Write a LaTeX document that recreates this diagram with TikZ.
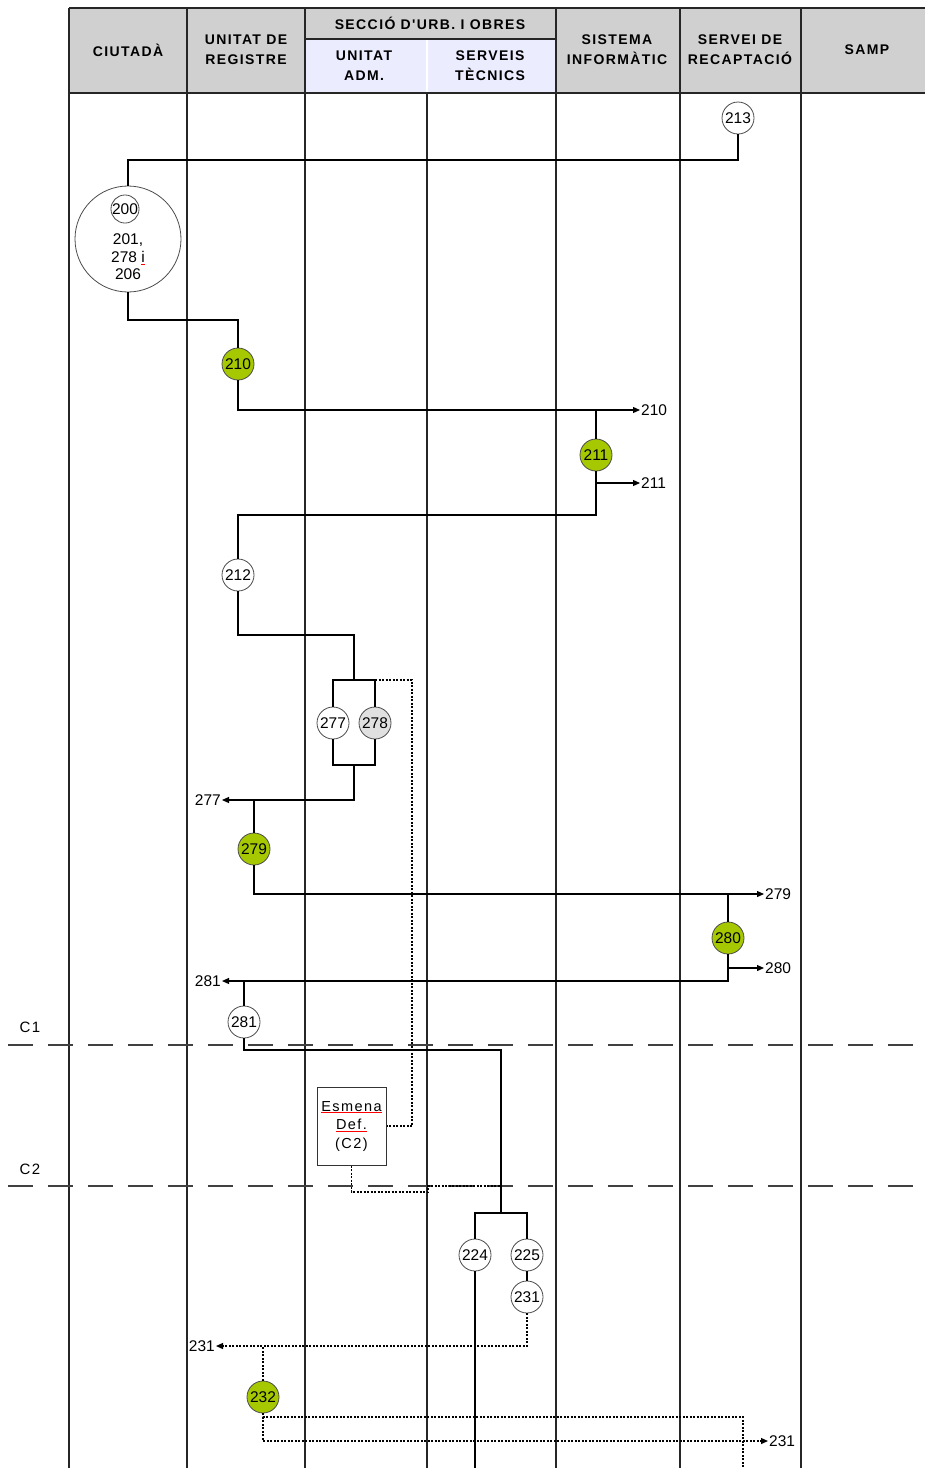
\documentclass[tikz,border=0pt]{standalone}
\usepackage{fontspec}
\setmainfont{Liberation Sans}
\newfontfamily\hdfont[LetterSpace=10]{Liberation Sans}
\usetikzlibrary{arrows.meta}

\definecolor{hdgray}{RGB}{208,208,208}
\definecolor{hdlav}{RGB}{236,236,255}
\definecolor{nodegreen}{RGB}{166,200,0}
\definecolor{nodegray}{RGB}{224,224,224}
\newcommand\redul[1]{\rlap{\textcolor{red}{\underline{\phantom{#1}}}}#1}
\newcommand\numfont{\fontsize{15.5}{17.5}\selectfont}

\tikzset{
  lane/.style={line width=2.2pt,draw=black!85},
  flow/.style={line width=1.2pt,draw=black},
  flowd/.style={flow,dash pattern=on 2pt off 1.5pt},
  tip/.style={-{Triangle[length=7pt,width=6pt]}},
  proc/.style={circle,draw=black!70,line width=0.8pt,fill=white,minimum size=32pt,inner sep=0pt,font=\numfont},
  procg/.style={proc,fill=nodegreen},
  lab/.style={font=\numfont,inner sep=1pt},
  hd/.style={font=\hdfont\bfseries\fontsize{14}{20}\selectfont,align=center,inner sep=0pt},
  cline/.style={line width=1.3pt,draw=black!75,dash pattern=on 25pt off 15pt}
}

\begin{document}
\begin{tikzpicture}[x=1pt,y=-1pt,line cap=butt,line join=miter]
  \useasboundingbox (0,0) rectangle (925,1468);
  % header
  \fill[hdgray] (69,8) rectangle (925,93);
  \fill[hdlav] (305,39) rectangle (556,93);
  \draw[lane] (69,8) -- (925,8);
  \draw[lane] (69,93) -- (925,93);
  \draw[lane] (305,39) -- (556,39);
  \foreach \x in {69,187,305,556,680,801}
    \draw[lane] (\x,8) -- (\x,93);
  \draw[white,line width=2pt] (427,40) -- (427,92);
  \node[hd] (hciu) at (128,50) {CIUTADÀ};
  \node[hd] (hreg) at (246,50) {UNITAT DE\\REGISTRE};
  \node[hd] (hsec) at (430,23) {SECCIÓ D'URB. I OBRES};
  \node[hd] (hadm) at (364,66) {UNITAT\\ADM.};
  \node[hd] (htec) at (490,66) {SERVEIS\\TÈCNICS};
  \node[hd] (hinf) at (617,50) {SISTEMA\\INFORMÀTIC};
  \node[hd] (hrec) at (740,50) {SERVEI DE\\RECAPTACIÓ};
  \node[hd] (hsamp) at (867,50) {SAMP};
  % lanes
  \foreach \x in {69,187,305,427,556,680,801}
    \draw[lane] (\x,93) -- (\x,1468);
  % milestones
  \draw[cline] (8,1045) -- (925,1045);
  \draw[cline] (8,1186) -- (925,1186);
  \node[lab,font=\hdfont\fontsize{15}{17}\selectfont] (c1) at (30,1027) {C1};
  \node[lab,font=\hdfont\fontsize{15}{17}\selectfont] (c2) at (30,1169) {C2};

  % steps
  \node[proc] (n213) at (738,118) {213};
  \node[circle,draw=black!70,line width=0.8pt,fill=white,minimum size=106pt,inner sep=0pt] (n200g) at (128,239) {};
  \node[proc,minimum size=28pt] (n200) at (125,209) {200};
  \node[lab,align=center] (n201) at (128,257) {201,\\278 \redul{i}\\206};
  \coordinate (k1) at (128,160);
  \draw[flow] (n213.south) |- (k1) -- (n200g.north);

  \node[procg] (n210) at (238,364) {210};
  \coordinate (k2) at (238,320);
  \draw[flow] (n200g.south) |- (k2) -- (n210.north);
  \node[lab,anchor=west] (o210) at (640,410) {210};
  \draw[flow,tip] (n210.south) |- (o210.west);

  \node[procg] (n211) at (596,455) {211};
  \draw[flow] (n211.north) -- (n211.north |- o210.west);
  \node[lab,anchor=west] (o211) at (640,483) {211};
  \draw[flow,tip] (n211.south |- o211.west) -- (o211.west);

  \node[proc] (n212) at (238,575) {212};
  \coordinate (k3) at (596,515);
  \draw[flow] (n211.south) -- (k3) -| (n212.north);

  \node[proc] (n277) at (333,723) {277};
  \node[proc,fill=nodegray] (n278) at (375,723) {278};
  \coordinate (k4) at (354,635);
  \coordinate (k5) at (354,680);
  \coordinate (k6) at (354,765);
  \draw[flow] (n212.south) |- (k4) -- (k5);
  \draw[flow] (n277.north) |- (k5) -| (n278.north);
  \draw[flow] (n277.south) |- (k6) -| (n278.south);
  \node[lab,anchor=east] (o277) at (222,800) {277};
  \draw[flow,tip] (k6) |- (o277.east);

  \node[procg] (n279) at (254,849) {279};
  \draw[flow] (n279.north) -- (n279.north |- o277.east);
  \node[lab,anchor=west] (o279) at (764,894) {279};
  \draw[flow,tip] (n279.south) |- (o279.west);

  \node[procg] (n280) at (728,938) {280};
  \draw[flow] (n280.north) -- (n280.north |- o279.west);
  \node[lab,anchor=west] (o280) at (764,968) {280};
  \draw[flow,tip] (n280.south |- o280.west) -- (o280.west);
  \node[lab,anchor=east] (o281) at (222,981) {281};
  \draw[flow,tip] (n280.south) |- (o281.east);

  \node[proc] (n281) at (244,1022) {281};
  \draw[flow] (n281.north) -- (n281.north |- o281.east);

  \node[draw=black!80,line width=1pt,fill=white,minimum width=69pt,minimum height=78pt,
        inner sep=0pt,align=center,font=\hdfont\fontsize{14.5}{18.5}\selectfont] (esm) at (351.5,1126)
        {\redul{Esmena}\\\redul{Def.}\\(C2)};
  \coordinate (k10) at (412,680);
  \draw[flowd] (n278.north |- k5) -- (k10) |- (esm.east);

  \node[proc] (n224) at (475,1255) {224};
  \node[proc] (n225) at (527,1255) {225};
  \node[proc] (n231) at (527,1297) {231};
  \coordinate (k7) at (501,1050);
  \coordinate (k8) at (501,1213);
  \draw[flow] (n281.south) |- (k7) -- (k8);
  \draw[flow] (n224.north) |- (k8) -| (n225.north);
  \coordinate (b224) at (475,1468);
  \draw[flow] (n224.south) -- (b224);
  \draw[flow] (n225) -- (n231);
  \coordinate (k11) at (428,1192);
  \coordinate (k12) at (428,1186);
  \draw[flowd] (esm.south) |- (k11) -- (k12) -- (k12 -| k8);

  \node[lab,anchor=east] (o231a) at (216,1346) {231};
  \draw[flowd,tip] (n231.south) |- (o231a.east);
  \node[procg] (n232) at (263,1397) {232};
  \draw[flowd] (n232.north) -- (n232.north |- o231a.east);
  \coordinate (k9) at (743,1417);
  \coordinate (b9) at (743,1468);
  \draw[flowd] (n232.south) |- (k9) -- (b9);
  \node[lab,anchor=west] (o231b) at (768,1441) {231};
  \draw[flowd,tip] (n232.south) |- (o231b.west);
\end{tikzpicture}
\end{document}
